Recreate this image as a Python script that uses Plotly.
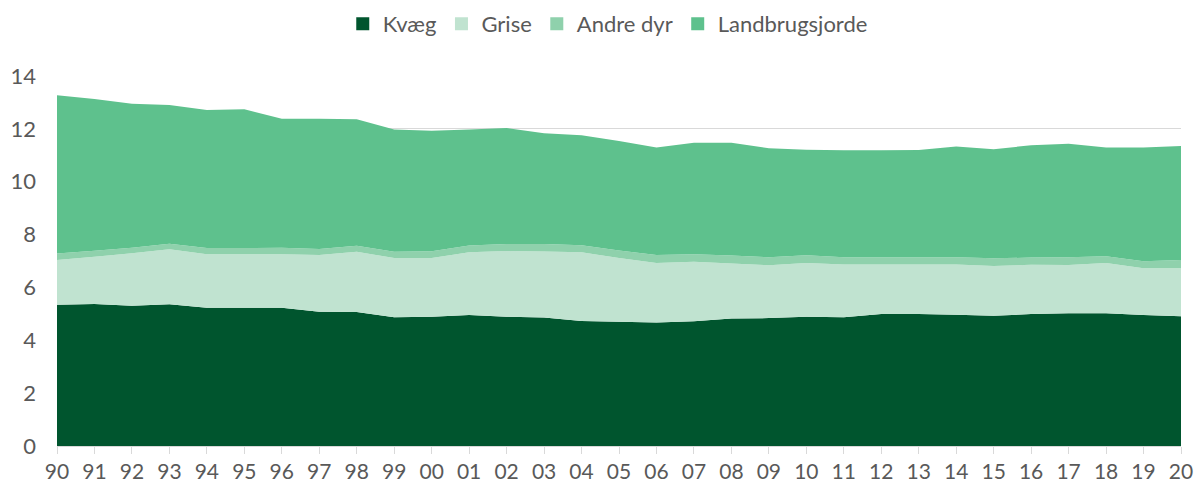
import plotly.graph_objects as go

years = ["90","91","92","93","94","95","96","97","98","99","00","01","02","03","04","05",
         "06","07","08","09","10","11","12","13","14","15","16","17","18","19","20"]
kvaeg = [5.34,5.37,5.31,5.36,5.23,5.23,5.23,5.08,5.07,4.87,4.89,4.96,4.89,4.86,4.73,4.70,
         4.67,4.72,4.82,4.84,4.89,4.87,4.99,4.99,4.97,4.93,4.99,5.02,5.02,4.96,4.91]
grise = [1.70,1.79,1.98,2.08,2.03,2.03,2.03,2.15,2.28,2.24,2.22,2.37,2.49,2.50,2.60,2.41,
         2.25,2.25,2.09,2.00,2.03,2.00,1.88,1.88,1.90,1.88,1.87,1.83,1.90,1.77,1.82]
andre = [0.24,0.23,0.21,0.21,0.23,0.23,0.24,0.22,0.23,0.24,0.26,0.26,0.26,0.28,0.27,0.29,
         0.31,0.29,0.30,0.30,0.30,0.27,0.27,0.27,0.27,0.29,0.27,0.29,0.26,0.26,0.31]
landbrug = [5.99,5.74,5.45,5.25,5.22,5.25,4.88,4.93,4.78,4.63,4.56,4.39,4.39,4.19,4.16,4.14,
            4.06,4.21,4.26,4.13,3.99,4.05,4.05,4.06,4.19,4.13,4.25,4.30,4.11,4.30,4.31]

names = ["Kvæg", "Grise", "Andre dyr", "Landbrugsjorde"]
colors = ["#00552e", "#c0e3d0", "#8fd1ac", "#5ec18d"]
series = [kvaeg, grise, andre, landbrug]

xs = list(range(len(years)))
fig = go.Figure()
for name, col, vals in zip(names, colors, series):
    fig.add_trace(go.Scatter(
        x=xs, y=vals, name=name, stackgroup="one", mode="none",
        fillcolor=col, showlegend=False, legendgroup=name,
    ))
# legend entries with square markers
for name, col in zip(names, colors):
    fig.add_trace(go.Scatter(
        x=[None], y=[None], name=name, mode="markers", legendgroup=name,
        marker=dict(symbol="square", size=13, color=col),
    ))

font_fam = "Lato, 'Open Sans', sans-serif"
fig.update_layout(
    width=1196, height=488,
    margin=dict(l=57, r=15, t=76, b=42),
    paper_bgcolor="white", plot_bgcolor="white",
    font=dict(family=font_fam, size=22, color="#595959"),
    legend=dict(orientation="h", x=0.49, xanchor="center", y=1 - 24 / 488, yanchor="middle",
                yref="container", font=dict(size=22, color="#595959"),
                itemwidth=30, traceorder="normal"),
    showlegend=True,
    xaxis=dict(range=[0, 30], tickvals=xs, ticktext=years, showgrid=False,
               showline=True, linecolor="#d9d9d9", linewidth=1,
               ticks="outside", ticklen=7, tickcolor="#d9d9d9", automargin=False,
               ticklabelstandoff=0,
               tickfont=dict(size=21, color="#595959"), zeroline=False, fixedrange=True),
    yaxis=dict(range=[0, 14], dtick=2, showgrid=True, gridcolor="#d9d9d9", gridwidth=1,
               zeroline=False, showline=False, ticks="", ticklabelstandoff=20, automargin=False,
               tickfont=dict(size=22, color="#595959"), fixedrange=True),
)
fig.write_html("out.html", config={"displayModeBar": False},
               post_script="document.body.style.margin='0';")
